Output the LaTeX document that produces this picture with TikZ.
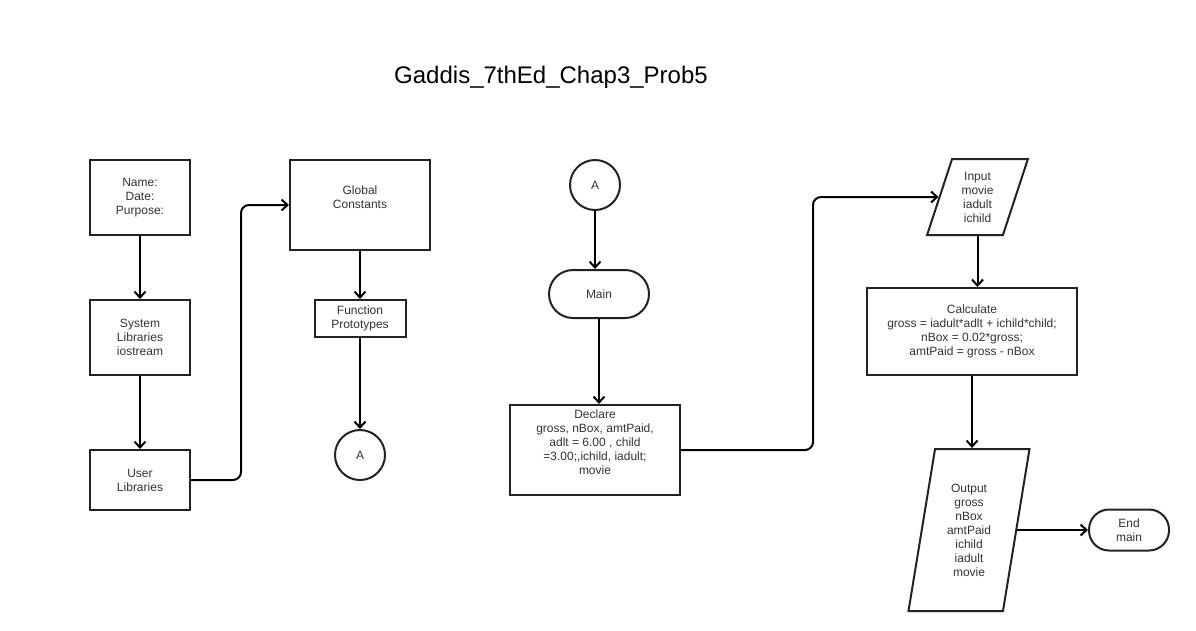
\documentclass[tikz,border=0pt]{standalone}
\usepackage{fontspec}
\setmainfont{Liberation Sans}
\usepackage{xcolor}
\usepackage{tikz}
\usetikzlibrary{arrows.meta, positioning, shapes.geometric}
\definecolor{myline}{RGB}{34, 34, 34}
\definecolor{mytext}{RGB}{51, 51, 51}

\begin{document}
\begin{tikzpicture}[x=1pt, y=-1pt,
    box/.style={draw=myline, line width=2pt, text=mytext, align=center,
        font=\fontsize{12}{14}\selectfont, inner sep=2pt},
    proc/.style={box, rectangle},
    conn/.style={box, circle, minimum size=50pt},
    term/.style={box, rectangle, rounded corners=#1},
    io/.style={box, trapezium, trapezium stretches=true},
    arr/.style={-{Straight Barb[length=6pt, width=11pt]}, line width=2pt,
        rounded corners=8pt}]
    \useasboundingbox (0,0) rectangle (1196,630);

    % 标题
    \node[font=\fontsize{24}{28}\selectfont] (title) at (551,77) {Gaddis\_7thEd\_Chap3\_Prob5};

    % 左侧
    \node[proc, minimum width=100pt, minimum height=75pt] (hdr) at (140,197.5) {Name:\\Date:\\Purpose:};
    \node[proc, minimum width=100pt, minimum height=75pt] (sys) at (140,337.5) {System\\Libraries\\iostream};
    \node[proc, minimum width=100pt, minimum height=60pt] (usr) at (140,480) {User\\Libraries};
    \node[proc, minimum width=140pt, minimum height=90pt,
        label={[text=mytext, align=center, font=\fontsize{12}{14}\selectfont, yshift=8pt]center:Global\\Constants}] (glob) at (360,205) {};
    \node[proc, minimum width=91pt, minimum height=37pt] (proto) at (360,318.5) {Function\\Prototypes};
    \node[conn] (conA) at (360,455) {A};

    % 右侧
    \node[conn] (conB) at (595,185) {A};
    \node[term=24pt, minimum width=100pt, minimum height=48pt] (main) at (599,294) {Main};
    \node[proc, minimum width=170pt, minimum height=90pt,
        label={[text=mytext, align=center, font=\fontsize{12}{14}\selectfont, yshift=8pt]center:Declare\\gross, nBox, amtPaid,\\adlt = 6.00 , child\\=3.00;,ichild, iadult;\\movie}] (decl) at (595,450) {};
    \node[io, trapezium left angle=72, trapezium right angle=108,
        minimum width=101pt, minimum height=76pt] (inp) at (977.5,197) {Input\\movie\\iadult\\ichild};
    \node[proc, minimum width=210pt, minimum height=87pt] (calc) at (972,331.5)
        {Calculate\\gross = iadult*adlt + ichild*child;\\nBox = 0.02*gross;\\amtPaid = gross - nBox};
    \node[io, trapezium left angle=79, trapezium right angle=101,
        minimum width=122pt, minimum height=162pt] (outp) at (969,530)
        {Output\\gross\\nBox\\amtPaid\\ichild\\iadult\\movie};
    \node[term=20pt, minimum width=80pt, minimum height=41pt] (fin) at (1129,530) {End\\main};

    % 连线
    \draw[arr] (hdr) -- (sys);
    \draw[arr] (sys) -- (usr);
    \draw[arr] (usr.east) -- ++(50,0) |- (glob.west);
    \draw[arr] (glob) -- (proto);
    \draw[arr] (proto) -- (conA);
    \draw[arr] (conB) -- (conB |- main.north);
    \draw[arr] (main) -- (main |- decl.north);
    \draw[arr] (decl.east) -- ++(132,0) |- (inp.west);
    \draw[arr] (inp) -- (inp |- calc.north);
    \draw[arr] (calc) -- (calc |- outp.north);
    \draw[arr] (outp.east) -- (outp.east -| fin.west);
\end{tikzpicture}
\end{document}
